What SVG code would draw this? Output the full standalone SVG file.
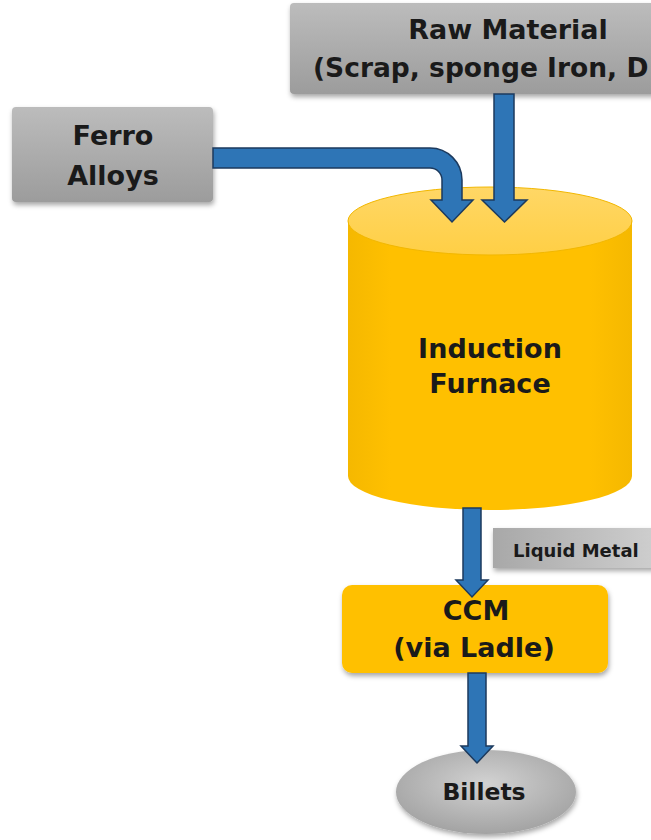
<svg xmlns="http://www.w3.org/2000/svg" width="651" height="840" viewBox="0 0 651 840">
<defs>
<linearGradient id="gray" x1="0" y1="0" x2="0" y2="1">
<stop offset="0" stop-color="#bcbcbc"/>
<stop offset="1" stop-color="#9c9c9c"/>
</linearGradient>
<linearGradient id="grayH" x1="0" y1="0" x2="1" y2="0">
<stop offset="0" stop-color="#a8a8a8"/>
<stop offset="1" stop-color="#d0d0d0"/>
</linearGradient>
<radialGradient id="ell" cx="0.5" cy="0.4" r="0.6">
<stop offset="0" stop-color="#d2d2d2"/>
<stop offset="1" stop-color="#a3a3a3"/>
</radialGradient>
<linearGradient id="body" x1="0" y1="0" x2="1" y2="0">
<stop offset="0" stop-color="#f5b800"/>
<stop offset="0.15" stop-color="#ffc000"/>
<stop offset="0.85" stop-color="#ffc000"/>
<stop offset="1" stop-color="#f5b800"/>
</linearGradient>
<linearGradient id="top" x1="0" y1="0" x2="0" y2="1">
<stop offset="0" stop-color="#ffd766"/>
<stop offset="1" stop-color="#ffcf45"/>
</linearGradient>
<filter id="sh" x="-10%" y="-10%" width="130%" height="140%">
<feDropShadow dx="1" dy="3" stdDeviation="2.5" flood-color="#000" flood-opacity="0.35"/>
</filter>
</defs>
<style>
.t{font-family:"DejaVu Sans","Liberation Sans",sans-serif;font-weight:bold;fill:#1a1a1a;}
.big{font-size:27px;}
.c{text-anchor:middle;}
.arr{fill:#2e75b6;stroke:#1c3a5e;stroke-width:1.5;stroke-linejoin:miter;}
</style>
<rect width="651" height="840" fill="#ffffff"/>

<g id="raw-material">
<rect x="290" y="3" width="380" height="91" rx="4" fill="url(#gray)" filter="url(#sh)"/>
<text class="t big c" x="508" y="39">Raw Material</text>
<text class="t" style="font-size:26.5px" x="313" y="77">(Scrap, sponge Iron, D</text>
</g>

<g id="ferro-alloys">
<rect x="12" y="107" width="201" height="95" rx="4" fill="url(#gray)" filter="url(#sh)"/>
<text class="t big c" x="113" y="145">Ferro</text>
<text class="t big c" x="113" y="185">Alloys</text>
</g>

<g id="induction-furnace">
<path d="M348,221 V476 A142,34 0 0 0 632,476 V221 Z" fill="url(#body)"/>
<ellipse cx="490" cy="221" rx="142" ry="34" fill="url(#top)" stroke="#f2b700" stroke-width="1"/>
<text class="t big c" x="490" y="358">Induction</text>
<text class="t big c" x="490" y="393">Furnace</text>
</g>

<g id="liquid-metal">
<rect x="493" y="528" width="170" height="40" fill="url(#grayH)" filter="url(#sh)"/>
<text class="t" style="font-size:18px" x="513" y="557">Liquid Metal</text>
</g>

<g id="ccm">
<rect x="342" y="585" width="266" height="88" rx="10" fill="#ffc000" filter="url(#sh)"/>
<text class="t big c" x="476" y="620">CCM</text>
<text class="t big c" x="474" y="657">(via Ladle)</text>
</g>

<g id="billets">
<ellipse cx="486" cy="792" rx="90" ry="42" fill="url(#ell)" filter="url(#sh)"/>
<text class="t c" style="font-size:23.5px" x="484" y="800">Billets</text>
</g>

<g id="connectors">
<path class="arr" d="M213,148 H430 A32,32 0 0 1 462,180 V200 H473 L452,222 L431,200 H442 V180 A12,12 0 0 0 430,168 H213 Z"/>
<path class="arr" d="M494,94 H514 V200 H527 L504.5,222 L482,200 H494 Z"/>
<path class="arr" d="M463,508 H481 V580 H488 L472,597 L456,580 H463 Z"/>
<path class="arr" d="M468,673 H486 V746 H493 L477,763 L461,746 H468 Z"/>
</g>
</svg>
